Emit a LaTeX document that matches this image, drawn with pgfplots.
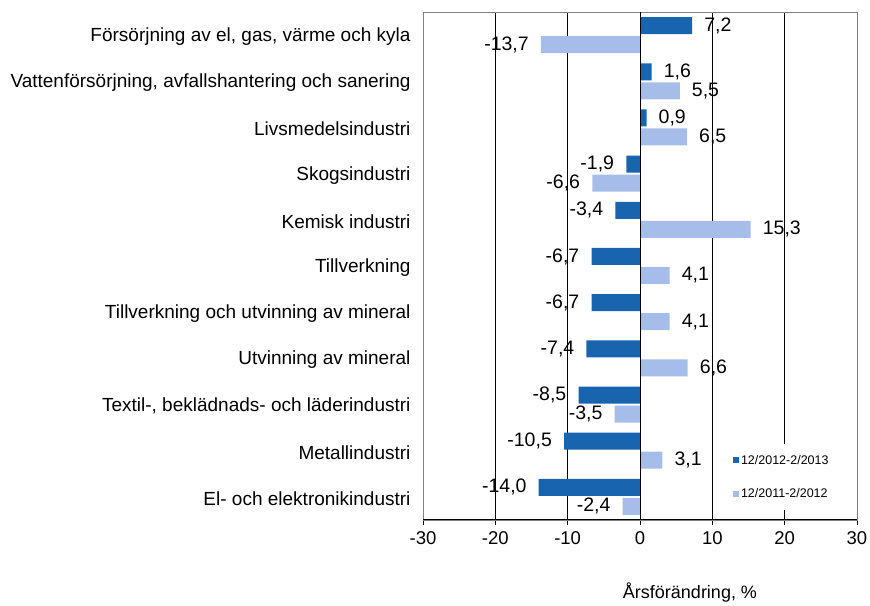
\documentclass[border=0pt]{standalone}
\usepackage{fontspec}
\setmainfont{Liberation Sans}
\usepackage{pgfplots}
\pgfplotsset{compat=1.18}
\definecolor{darkb}{RGB}{24,100,175}
\definecolor{lightb}{RGB}{166,189,234}
\definecolor{framegray}{RGB}{128,128,128}
\pgfplotstableread{
y dark light
0 -14.0 -2.4
1 -10.5 3.1
2 -8.5 -3.5
3 -7.4 6.6
4 -6.7 4.1
5 -6.7 4.1
6 -3.4 15.3
7 -1.9 -6.6
8 0.9 6.5
9 1.6 5.5
10 7.2 -13.7
}\datatable
\begin{document}
\begin{tikzpicture}
\begin{axis}[
  set layers,
  scale only axis, width=434pt, height=508pt,
  xbar, bar width=17pt,
  xmin=-30, xmax=30, ymin=-0.5, ymax=10.5,
  xtick={-30,-20,...,30},
  ytick={0,...,10},
  yticklabels={El- och elektronikindustri, Metallindustri, {Textil-, beklädnads- och läderindustri}, Utvinning av mineral, Tillverkning och utvinning av mineral, Tillverkning, Kemisk industri, Skogsindustri, Livsmedelsindustri, {Vattenförsörjning, avfallshantering och sanering}, {Försörjning av el, gas, värme och kyla}},
  y tick style={draw=none},
  x tick style={black, line width=0.8pt},
  xtick pos=bottom, tick align=center, major tick length=10pt,
  xmajorgrids, grid style={black, line width=1pt},
  axis line style={framegray, line width=0.8pt},
  /pgf/number format/assume math mode=true,
  xticklabel style={font=\fontsize{18.5}{20}\selectfont, yshift=-3pt},
  yticklabel style={font=\fontsize{19}{21}\selectfont, xshift=-4pt, yshift=-1.5pt},
  legend style={at={(rel axis cs:0.70,0.15)}, anchor=north west, draw=none, fill=white,
    font=\fontsize{12.5}{14}\selectfont, row sep=19pt, inner xsep=6pt, inner ysep=9pt},
  legend cell align=left,
  legend image code/.code={\fill[#1,draw=none] (0pt,-3pt) rectangle (6pt,3pt);},
]
% value labels, drawn beneath the grid
\addplot[forget plot, on layer=axis background, draw=none, fill=none, bar shift=9.5pt,
  nodes near coords,
  nodes near coords style={font=\fontsize{19.5}{21}\selectfont, inner xsep=12pt, text=black,
    /pgf/number format/.cd, use comma, fixed, fixed zerofill, precision=1, assume math mode=true}]
  table[x=dark, y=y] {\datatable};
\addplot[forget plot, on layer=axis background, draw=none, fill=none, bar shift=-9.5pt,
  nodes near coords,
  nodes near coords style={font=\fontsize{19.5}{21}\selectfont, inner xsep=12pt, text=black,
    /pgf/number format/.cd, use comma, fixed, fixed zerofill, precision=1, assume math mode=true}]
  table[x=light, y=y] {\datatable};
% bars
\addplot[fill=darkb, draw=none, bar shift=9.5pt] table[x=dark, y=y] {\datatable};
\addplot[fill=lightb, draw=none, bar shift=-9.5pt] table[x=light, y=y] {\datatable};
\legend{12/2012-2/2013, 12/2011-2/2012}
\draw[on layer=axis foreground, black, line width=1pt] (axis cs:0,-0.5) -- (axis cs:0,10.5);
\end{axis}
\draw[black, line width=1pt] (current axis.south west) -- (current axis.south east);
\node[font=\fontsize{18}{20}\selectfont] at ([xshift=267pt,yshift=-73pt]current axis.south west) {Årsförändring, \%};
\pgfresetboundingbox
\path ([xshift=-423pt,yshift=-85pt]current axis.south west) rectangle ++(870pt,605pt);
\end{tikzpicture}
\end{document}
